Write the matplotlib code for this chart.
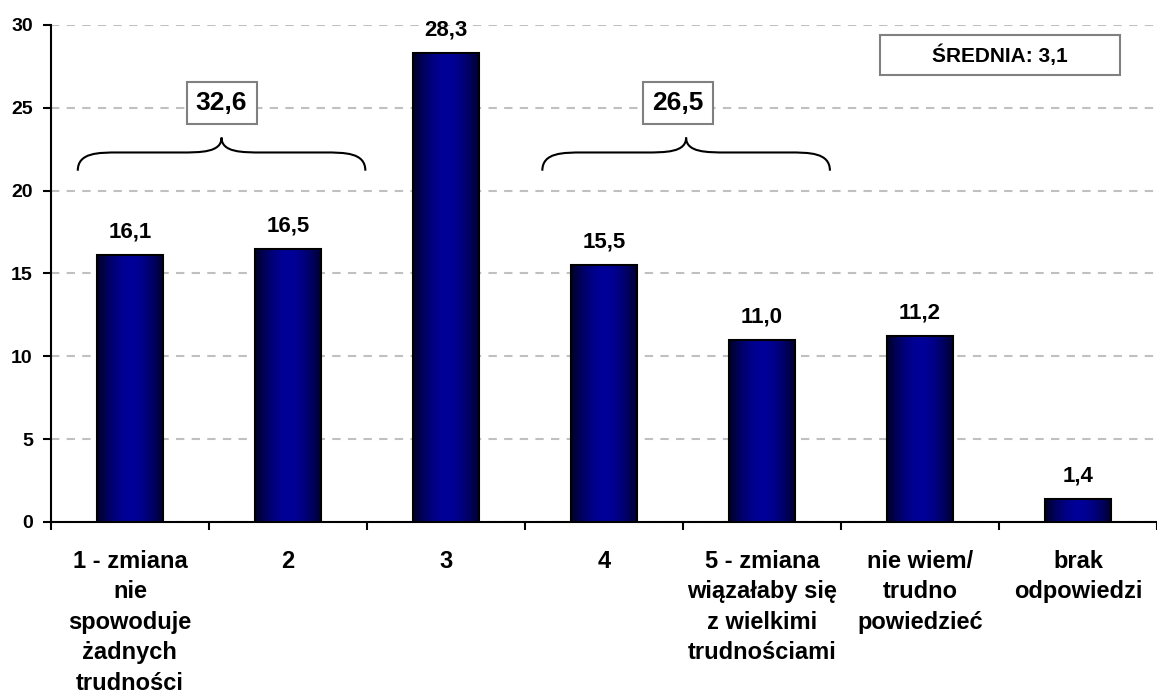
import matplotlib.pyplot as plt
import numpy as np
from matplotlib.path import Path
from matplotlib.patches import PathPatch, Rectangle

plt.rcParams['font.family'] = ['Liberation Sans', 'DejaVu Sans']
plt.rcParams['font.weight'] = 'bold'

categories = [
    "1 - zmiana\nnie\nspowoduje\nżadnych\ntrudności",
    "2",
    "3",
    "4",
    "5 - zmiana\nwiązałaby się\nz wielkimi\ntrudnościami",
    "nie wiem/\ntrudno\npowiedzieć",
    "brak\nodpowiedzi",
]
values = [16.1, 16.5, 28.3, 15.5, 11.0, 11.2, 1.4]
value_labels = ["16,1", "16,5", "28,3", "15,5", "11,0", "11,2", "1,4"]
group_sums = ["32,6", "26,5"]
mean_label = "ŚREDNIA: 3,1"


def gradient_bars(ax, bars):
    """Fill each bar with a dark-edge / bright-centre horizontal gradient."""
    t = np.linspace(-1, 1, 64)
    shade = 1 - np.abs(t) ** 1.8
    dark = np.array([0.0, 0.0, 0.16])
    light = np.array([0.0, 0.0, 0.6])
    img = dark + (light - dark) * shade[:, None]
    img = img[None, :, :]
    for b in bars:
        x, y = b.get_x(), b.get_y()
        w, h = b.get_width(), b.get_height()
        im = ax.imshow(img, extent=(x, x + w, y, y + h), aspect='auto',
                       zorder=3.1, interpolation='bilinear')
        im.set_clip_path(b)


def brace(ax, x0, x1, y_end, y_mid, y_tip):
    """Curly brace spanning x0..x1, opening downwards."""
    xm = (x0 + x1) / 2
    r = 0.13
    verts = [
        (x0, y_end), (x0, y_mid), (x0 + r, y_mid), (x0 + 2 * r, y_mid),
        (xm - 2 * r, y_mid), (xm - r, y_mid), (xm, y_mid), (xm, y_tip),
        (xm, y_mid), (xm + r, y_mid), (xm + 2 * r, y_mid),
        (x1 - 2 * r, y_mid), (x1 - r, y_mid), (x1, y_mid), (x1, y_end),
    ]
    codes = [Path.MOVETO, Path.CURVE4, Path.CURVE4, Path.CURVE4,
             Path.LINETO, Path.CURVE4, Path.CURVE4, Path.CURVE4,
             Path.CURVE4, Path.CURVE4, Path.CURVE4,
             Path.LINETO, Path.CURVE4, Path.CURVE4, Path.CURVE4]
    ax.add_patch(PathPatch(Path(verts, codes), fill=False, lw=1.5,
                           edgecolor='black', zorder=4))


fig = plt.figure(figsize=(11.57, 6.93), dpi=100)
ax = fig.add_axes([0.044, 0.247, 0.956, 0.717])

x = np.arange(len(values))
bars = ax.bar(x, values, width=0.42, color='#000080', linewidth=0, zorder=3)
gradient_bars(ax, bars)
ax.bar(x, values, width=0.42, fill=False, edgecolor='black', linewidth=1.5,
       zorder=3.2)

for xi, v, lab in zip(x, values, value_labels):
    ax.text(xi, v + 1.05, lab, ha='center', va='baseline', fontsize=16,
            fontweight='bold')

ax.set_xlim(-0.5, len(values) - 0.5)
ax.set_ylim(0, 30)
ax.set_yticks(range(0, 31, 5))
ax.yaxis.grid(True, color='#c0c0c0', linestyle=(0, (4, 3.5)), linewidth=1.5)
ax.set_axisbelow(True)

ax.set_xticks(x)
ax.set_xticklabels(categories, fontsize=17, fontweight='bold',
                   linespacing=1.42, va='top')
ax.tick_params(axis='x', length=0, pad=20)
ax.set_xticks(np.arange(-0.5, len(values)), minor=True)
ax.tick_params(axis='x', which='minor', length=6, width=1.5, direction='out')
ax.tick_params(axis='y', length=6, width=1.5, labelsize=14, pad=7)
for lbl in ax.get_yticklabels():
    lbl.set_fontweight('bold')

for s in ['top', 'right']:
    ax.spines[s].set_visible(False)
for s in ['left', 'bottom']:
    ax.spines[s].set_linewidth(1.5)

# braces with group totals
brace(ax, -0.33, 1.49, 21.2, 22.3, 23.2)
brace(ax, 2.61, 4.43, 21.2, 22.3, 23.2)
box = dict(boxstyle='square,pad=0.35', facecolor='white', edgecolor='#808080',
           linewidth=1.5)
ax.text(0.58, 25.3, group_sums[0], ha='center', va='center', fontsize=19,
        fontweight='bold', bbox=box, zorder=5)
ax.text(3.47, 25.3, group_sums[1], ha='center', va='center', fontsize=19,
        fontweight='bold', bbox=box, zorder=5)

# mean value box in the upper right corner
fig.add_artist(Rectangle((880 / 1157, 1 - 75 / 693), 240 / 1157, 40 / 693,
                         transform=fig.transFigure, facecolor='white',
                         edgecolor='#808080', linewidth=1.5, zorder=5))
fig.text(1000 / 1157, 1 - 55 / 693, mean_label, ha='center', va='center',
         fontsize=15, fontweight='bold', zorder=6)

fig.savefig('out.png', dpi=100)
